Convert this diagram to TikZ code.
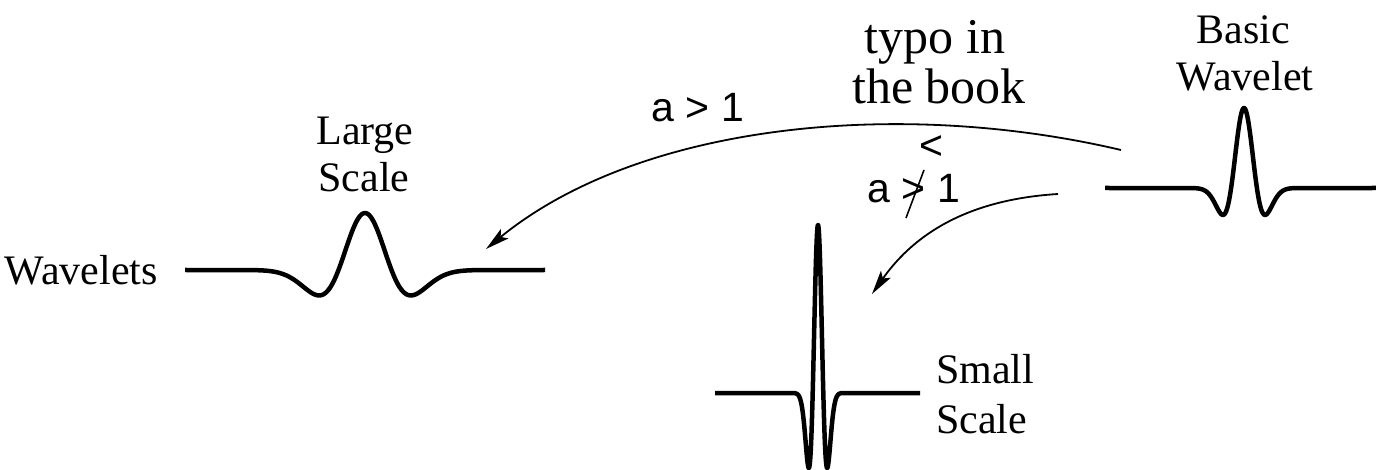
\documentclass[tikz,border=0pt]{standalone}
\usepackage{fontspec}
\setmainfont{Liberation Serif}
\newfontfamily\sansf{Liberation Sans}
\usetikzlibrary{arrows.meta}
\begin{document}
\begin{tikzpicture}[x=1pt,y=-1pt,
  wave/.style={line width=4.5pt, line join=round},
  conn/.style={line width=1.8pt, -{Stealth[length=24pt,width=12pt,inset=5pt]}},
  lab/.style={font=\fontsize{42}{42}\selectfont, inner sep=0pt, anchor=base},
  big/.style={font=\fontsize{50}{50}\selectfont, inner sep=0pt, anchor=base},
  sans/.style={font=\sansf\fontsize{41}{41}\selectfont, inner sep=0pt, anchor=base}]
\useasboundingbox (0,0) rectangle (1376,470);

% labels
\node[big] (typo1) at (935,54) {typo in};
\node[big] (typo2) at (939,104) {the book};
\node[lab] (basic1) at (1243,44) {Basic};
\node[lab] (basic2) at (1245,91) {Wavelet};
\node[lab] (large1) at (365,145) {Large};
\node[lab] (large2) at (364,192) {Scale};
\node[lab,anchor=base west] (small1) at (936,383) {Small};
\node[lab,anchor=base west] (small2) at (936,433) {Scale};
\node[lab,anchor=base east] (wl) at (158,285) {Wavelets};
\node[sans] (agt) at (698,122) {a > 1};
\node[sans] (lt) at (931,160) {<};
\node[sans] (angt) at (914,203) {a > 1};
\draw[line width=1.6pt] (906,218) -- (924,170);

% wavelets
\draw[wave] (185,270) -- plot[domain=-5:5,samples=201] ({365+26.5*\x},{270-57*(1-(\x)*(\x))*exp(-0.5*(\x)*(\x))}) -- (545,270);
\draw[wave] (1105,188) -- plot[domain=-5:5,samples=201] ({1244+12.9*\x},{188-80*(1-(\x)*(\x))*exp(-0.6*(\x)*(\x))}) -- (1376,188);
\draw[wave] (715,393) -- plot[domain=-5:5,samples=301] ({818+5.3*\x},{393-168*(1-(\x)*(\x))*exp(-0.5*(\x)*(\x))}) -- (920,393);

% connectors
\coordinate (a1s) at (1121,150);
\coordinate (a1e) at (486,249);
\coordinate (a2s) at (1058,194);
\coordinate (a2e) at (872,294);
\draw[conn] (a1s) .. controls (900,98) and (640,123) .. (a1e);
\draw[conn] (a2s) .. controls (960,200) and (910,240) .. (a2e);
\end{tikzpicture}
\end{document}
